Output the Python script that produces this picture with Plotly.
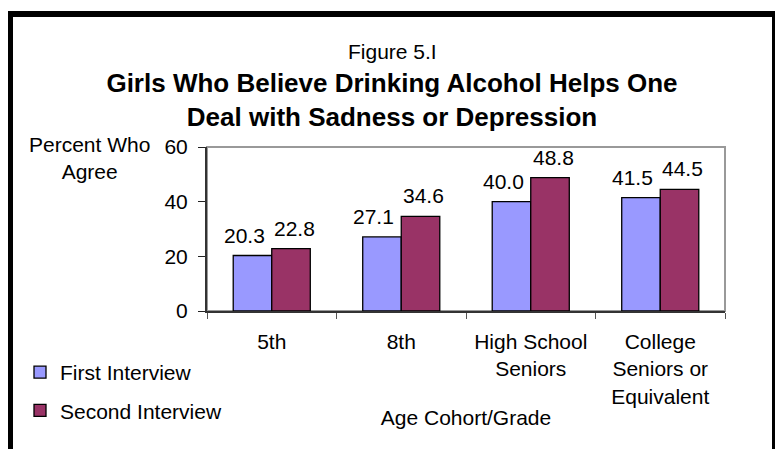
import plotly.graph_objects as go

categories = ["5th", "8th", "High School<br>Seniors", "College<br>Seniors or<br>Equivalent"]
first_interview = [20.3, 27.1, 40.0, 41.5]
second_interview = [22.8, 34.6, 48.8, 44.5]
series_names = ["First Interview", "Second Interview"]
y_ticks = [0, 20, 40, 60]

# page body has an 8px margin; work in screen pixels and convert
O = 8
W, H = 783 - O, 449 - O
# plot area in screen pixels: x 207..725, y 147..311
PL, PR, PT, PB = 207, 725, 147, 311
L, R, T, B = PL - O, W - (PR - O), PT - O, H - (PB - O)
PW, PH = PR - PL, PB - PT

def px_x(p):
    return (p - PL) / PW

def px_y(p):
    return (PB - p) / PH

FONT = "Arial, Liberation Sans, sans-serif"
FS = 21
colors = ["#9999FF", "#993366"]

fig = go.Figure()
for name, vals, col, grp in zip(series_names, [first_interview, second_interview], colors, ["a", "b"]):
    fig.add_trace(go.Bar(
        x=categories, y=vals, name=name, legendgroup=grp,
        marker=dict(color=col, line=dict(color="#000000", width=1.3)),
        hoverinfo="x+y",
    ))

annotations = []
for vals, xs in zip([first_interview, second_interview], [-27.3, 22.3]):
    for c, v in zip(categories, vals):
        annotations.append(dict(
            x=c, y=v, xref="x", yref="y", text=f"{v:.1f}", showarrow=False,
            yanchor="bottom", xanchor="center", xshift=xs, yshift=7,
            font=dict(family=FONT, size=FS, color="#000000"),
        ))

annotations.append(dict(
    x=px_x(392.5), y=px_y(38), xref="paper", yref="paper", text="Figure 5.I",
    showarrow=False, xanchor="center", yanchor="top",
    font=dict(family=FONT, size=FS, color="#000000"),
))
annotations.append(dict(
    x=px_x(89), y=px_y(131), xref="paper", yref="paper", text="Percent Who<br>Agree",
    showarrow=False, xanchor="center", yanchor="top",
    font=dict(family=FONT, size=FS, color="#000000"),
))

fig.update_layout(
    width=W, height=H,
    margin=dict(l=L, r=R, t=T, b=B, autoexpand=False),
    paper_bgcolor="#FFFFFF", plot_bgcolor="#FFFFFF",
    font=dict(family=FONT, size=FS, color="#000000"),
    title=dict(
        text="<b>Girls Who Believe Drinking Alcohol Helps One<br>Deal with Sadness or Depression</b>",
        x=(392 - O) / W, xref="container", xanchor="center",
        y=1 - (84 - O + 8) / H, yref="container", yanchor="top",
        font=dict(family=FONT, size=26, color="#000000"),
    ),
    barmode="group", bargap=0.405, bargroupgap=0,
    showlegend=True,
    legend=dict(
        x=px_x(20), y=px_y(352), xanchor="left", yanchor="top",
        orientation="v", traceorder="grouped", tracegroupgap=8,
        font=dict(family=FONT, size=FS, color="#000000"),
        bgcolor="rgba(0,0,0,0)",
    ),
    xaxis=dict(
        type="category", showgrid=False, zeroline=False,
        showline=True, linecolor="#333333", linewidth=1.5,
        ticks="outside", tickson="boundaries", ticklen=6, tickcolor="#555555", tickwidth=1,
        ticklabelstandoff=11,
        tickfont=dict(family=FONT, size=FS, color="#000000"),
        title=dict(text="Age Cohort/Grade", standoff=4,
                   font=dict(family=FONT, size=FS, color="#000000")),
        fixedrange=True,
    ),
    yaxis=dict(
        range=[0, 60], tickvals=y_ticks, ticktext=[str(t) for t in y_ticks],
        showgrid=False, zeroline=False,
        showline=True, linecolor="#333333", linewidth=2,
        ticks="outside", ticklen=7, tickcolor="#222222", tickwidth=1,
        ticklabelstandoff=6,
        tickfont=dict(family=FONT, size=FS, color="#000000"),
        fixedrange=True,
    ),
    annotations=annotations,
    shapes=[
        dict(type="rect", xref="paper", yref="paper", x0=0, x1=1, y0=0, y1=1,
             line=dict(color="#999999", width=2), layer="below"),
        dict(type="rect", xref="paper", yref="paper",
             x0=px_x(10), x1=px_x(775), y0=px_y(470), y1=px_y(14),
             line=dict(color="#000000", width=6), layer="above"),
    ],
)

fig.write_html("out.html")
